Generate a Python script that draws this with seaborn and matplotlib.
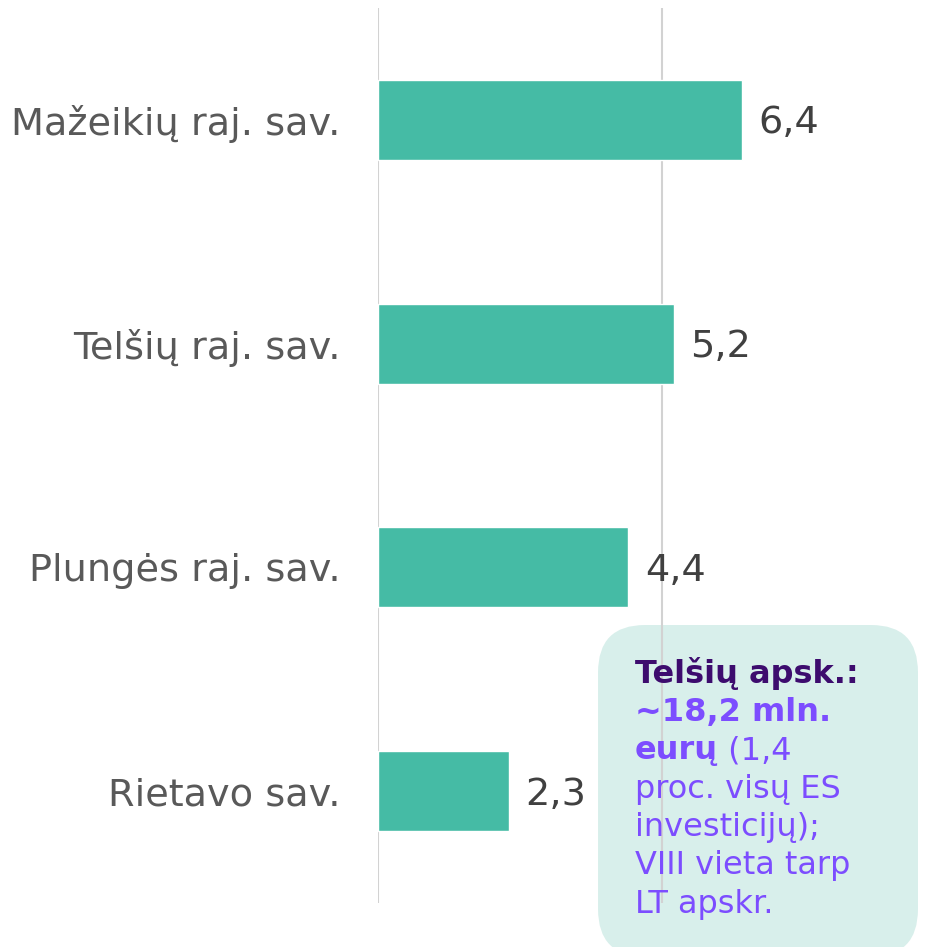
import numpy as np
import pandas as pd
import matplotlib.pyplot as plt
import seaborn as sns
from matplotlib.patches import FancyBboxPatch

# data
categories = ["Mažeikių raj. sav.", "Telšių raj. sav.", "Plungės raj. sav.", "Rietavo sav."]
values = [6.4, 5.2, 4.4, 2.3]
value_labels = ["6,4", "5,2", "4,4", "2,3"]

note_title = "Telšių apsk.:"
note_bold = ["~18,2 mln.", "eurų"]
note_rest = [" (1,4", "proc. visų ES", "investicijų);", "VIII vieta tarp", "LT apskr."]

bar_color = "#45bba5"
grid_color = "#d2d2d2"
label_color = "#595959"
value_color = "#404040"
box_color = "#d8efeb"
dark_purple = "#3d0c6e"
purple = "#7c4dff"

sns.set_theme(style="white")
plt.rcParams["font.family"] = ["DejaVu Sans"]

df = pd.DataFrame({"name": categories, "value": values})

fig = plt.figure(figsize=(9.35, 9.47), dpi=100)
ax = fig.add_axes([0.4043, 0.0465, 0.5957, 0.9451])
ax.patch.set_visible(False)
ax.set_zorder(2)

sns.barplot(data=df, x="value", y="name", orient="h", color=bar_color,
            saturation=1, width=0.357, ax=ax)

lbls = ax.bar_label(ax.containers[0], labels=value_labels, padding=12,
                    fontsize=27.5, color=value_color)
for l in lbls:
    l.xyann = (12, -2.5)

ax.set_xlim(0, 9.8)
ax.set_ylim(3.5, -0.5)
ax.set_xticks([0, 5])
ax.set_xticklabels([])
ax.grid(axis="x", color=grid_color, linewidth=1.5)
ax.grid(axis="y", visible=False)
ax.set_axisbelow(True)
for s in ax.spines.values():
    s.set_visible(False)
ax.tick_params(axis="y", length=0, pad=27, labelsize=27.5, labelcolor=label_color)
ax.tick_params(axis="x", length=0)
ax.set_xlabel("")
ax.set_ylabel("")

# annotation box
box = FancyBboxPatch((0.6396, -0.01), 0.3422, 0.35,
                     boxstyle="round,pad=0,rounding_size=0.05",
                     transform=fig.transFigure, facecolor=box_color,
                     edgecolor="none", zorder=1)
fig.patches.append(box)

x0 = 0.679
y0 = 0.2788
dy = 0.0404
fs = 23
fig.text(x0, y0, note_title, fontsize=fs, fontweight="bold", color=dark_purple, va="baseline", zorder=5)
fig.text(x0, y0 - dy, note_bold[0], fontsize=fs, fontweight="bold", color=purple, va="baseline", zorder=5)
t = fig.text(x0, y0 - 2 * dy, note_bold[1], fontsize=fs, fontweight="bold", color=purple,
             va="baseline", zorder=5)
ax.annotate(note_rest[0], xy=(1, 0), xycoords=t, fontsize=fs, color=purple,
            va="bottom", ha="left", annotation_clip=False)
for i, line in enumerate(note_rest[1:]):
    fig.text(x0, y0 - (3 + i) * dy, line, fontsize=fs, color=purple, va="baseline", zorder=5)

fig.savefig("out.png", dpi=100)
